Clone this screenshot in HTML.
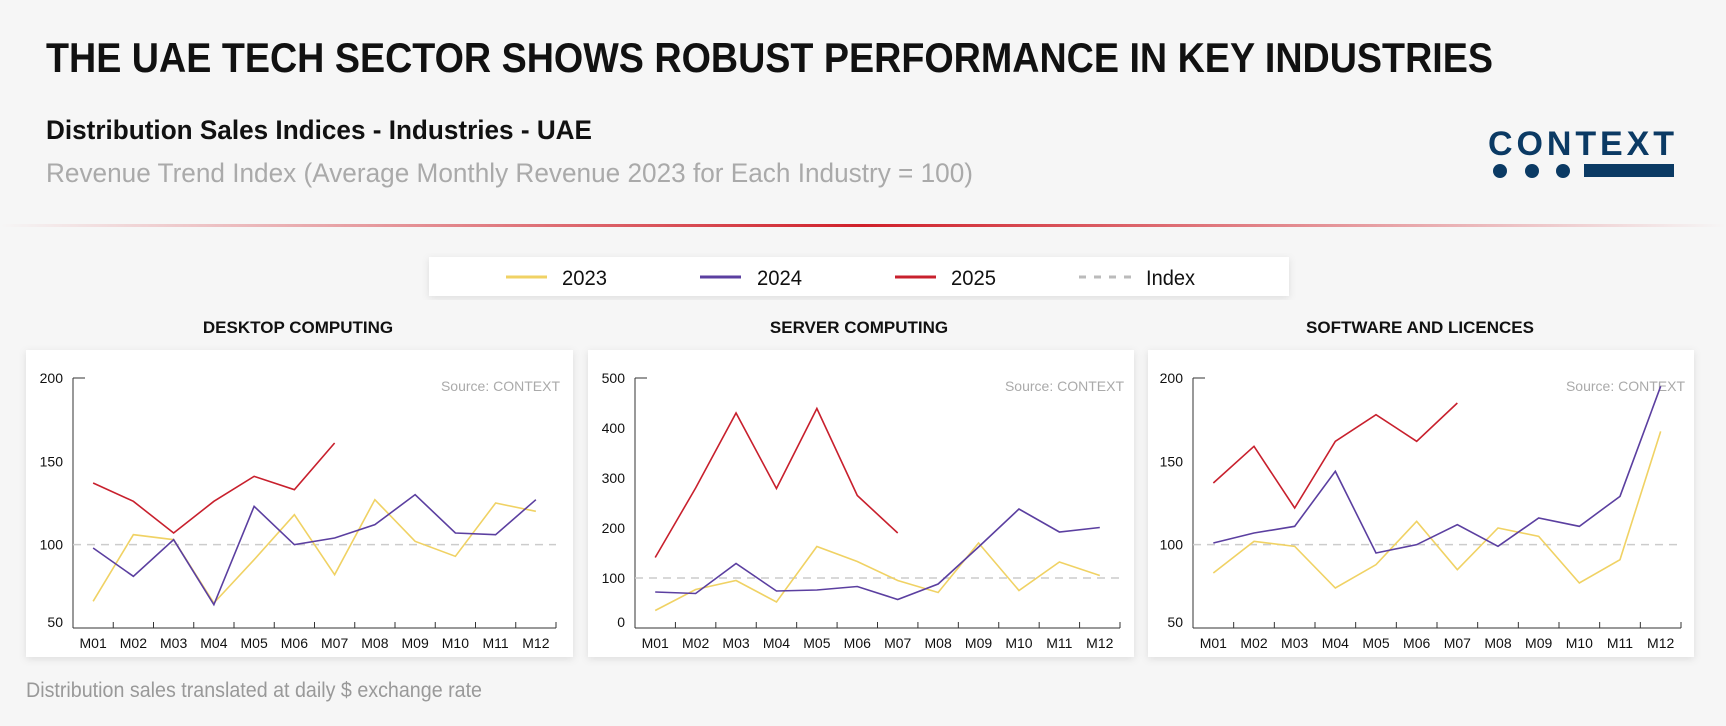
<!DOCTYPE html>
<html><head><meta charset="utf-8"><style>
html,body{margin:0;padding:0;background:#f6f6f6;}
svg{display:block;font-family:"Liberation Sans",sans-serif;}
</style></head><body>
<svg id="root" width="1726" height="726" viewBox="0 0 1726 726">
<defs>
<linearGradient id="redline" x1="0" x2="1" y1="0" y2="0">
<stop offset="0" stop-color="#d0202a" stop-opacity="0"/>
<stop offset="0.5" stop-color="#d0202a" stop-opacity="1"/>
<stop offset="1" stop-color="#d0202a" stop-opacity="0"/>
</linearGradient>
<filter id="sh" x="-5%" y="-10%" width="110%" height="120%"><feDropShadow dx="0" dy="2" stdDeviation="4" flood-color="#000" flood-opacity="0.10"/></filter>
</defs>
<rect width="1726" height="726" fill="#f6f6f6"/>
<text x="46" y="72" font-size="42" font-weight="bold" fill="#111" textLength="1447" lengthAdjust="spacingAndGlyphs">THE UAE TECH SECTOR SHOWS ROBUST PERFORMANCE IN KEY INDUSTRIES</text>
<text x="46" y="139" font-size="27" font-weight="bold" fill="#111" textLength="546" lengthAdjust="spacingAndGlyphs">Distribution Sales Indices - Industries - UAE</text>
<text x="46" y="182" font-size="27" fill="#aaa" textLength="927" lengthAdjust="spacingAndGlyphs">Revenue Trend Index (Average Monthly Revenue 2023 for Each Industry = 100)</text>
<g>
<text x="1488" y="155" font-size="34" font-weight="bold" fill="#0b3a64" textLength="186" lengthAdjust="spacing">CONTEXT</text>
<circle cx="1500" cy="171" r="7" fill="#0b3a64"/><circle cx="1532" cy="171" r="7" fill="#0b3a64"/><circle cx="1563" cy="171" r="7" fill="#0b3a64"/>
<rect x="1584" y="164" width="90" height="13" fill="#0b3a64"/>
</g>
<rect x="0" y="224" width="1726" height="3" fill="url(#redline)"/>
<g>
<rect x="429" y="257" width="860" height="39" fill="#fff" filter="url(#sh)"/>
<g><line x1="506" x2="547" y1="277" y2="277" stroke="#f0d264" stroke-width="3"/><text x="562" y="285" font-size="21" fill="#111" textLength="45" lengthAdjust="spacingAndGlyphs">2023</text></g>
<g><line x1="700" x2="741" y1="277" y2="277" stroke="#5b3fa0" stroke-width="3"/><text x="757" y="285" font-size="21" fill="#111" textLength="45" lengthAdjust="spacingAndGlyphs">2024</text></g>
<g><line x1="895" x2="936" y1="277" y2="277" stroke="#c8202d" stroke-width="3"/><text x="951" y="285" font-size="21" fill="#111" textLength="45" lengthAdjust="spacingAndGlyphs">2025</text></g>
<g><line x1="1079" x2="1131" y1="277" y2="277" stroke="#bbb" stroke-width="3" stroke-dasharray="7,8"/><text x="1146" y="285" font-size="21" fill="#111" textLength="49" lengthAdjust="spacingAndGlyphs">Index</text></g>
</g>
<text x="26" y="697" font-size="21" fill="#999" textLength="456" lengthAdjust="spacingAndGlyphs">Distribution sales translated at daily $ exchange rate</text>
<g id="charts"></g>
</svg>
<script>
const months = ["M01","M02","M03","M04","M05","M06","M07","M08","M09","M10","M11","M12"];
const desktop2023 = [66,106,103,65,91,118,82,127,102,93,125,120];
const desktop2024 = [98,81,103,64,123,100,104,112,130,107,106,127];
const desktop2025 = [137,126,107,126,141,133,161];
const server2023 = [35,77,95,52,163,133,95,71,170,75,132,105];
const server2024 = [72,69,129,74,76,83,57,88,162,238,192,201];
const server2025 = [141,280,430,279,439,265,190];
const software2023 = [83,102,99,74,88,114,85,110,105,77,91,168];
const software2024 = [101,107,111,144,95,100,112,99,116,111,129,195];
const software2025 = [137,159,122,162,178,162,185];
const desktopTicks = [50,100,150,200];
const serverTicks = [0,100,200,300,400,500];
const softwareTicks = [50,100,150,200];

const NS="http://www.w3.org/2000/svg";
const root=document.getElementById('charts');
function mk(tag,attrs,parent){const e=document.createElementNS(NS,tag);for(const k in attrs)e.setAttribute(k,attrs[k]);(parent||root).appendChild(e);return e;}

function chart(cfg){
  const g=mk('g',{});
  
  
  const panel=mk('rect',{x:cfg.px,y:350,width:cfg.pw,height:307,fill:'#fff',filter:'url(#sh)'},g);
  
  
  const t=mk('text',{x:cfg.tx,y:333,'font-size':17,'font-weight':'bold','text-anchor':'middle',fill:'#111'},g);
  t.textContent=cfg.title;
  
  
  const L=cfg.ax, R=cfg.ar, T=378, B=628;
  const ymin=cfg.ticks[0], ymax=cfg.ticks[cfg.ticks.length-1];
  const y=v=>B-(v-ymin)/(ymax-ymin)*(B-T);
  const bw=(R-L)/12;
  const x=i=>L+bw*(i+0.5);
  const src=mk('text',{x:R+4,y:391,'font-size':14,'text-anchor':'end',fill:'#aaa'},g);
  src.textContent='Source: CONTEXT';
  
  
  const ya=mk('line',{x1:L,x2:L,y1:T,y2:B,stroke:'#333','stroke-width':1},g);
  
  
  mk('line',{x1:L,x2:L+12,y1:T,y2:T,stroke:'#333','stroke-width':1},g);
  const xa=mk('line',{x1:L,x2:R,y1:B,y2:B,stroke:'#333','stroke-width':1},g);
  
  
  cfg.ticks.forEach((v,k)=>{
    const lab=mk('text',{x:L-10,y:y(v)+5-(k===0?6:0),'font-size':14,'text-anchor':'end',fill:'#111'},g);
    lab.textContent=v;
    
    
  });
  months.forEach((m,i)=>{
    if(i>0) mk('line',{x1:L+bw*i,x2:L+bw*i,y1:B,y2:B-6,stroke:'#333','stroke-width':1},g);
    const lab=mk('text',{x:x(i),y:B+20,'font-size':14,'text-anchor':'middle',fill:'#111'},g);
    lab.textContent=m;
    
    
  });
  mk('line',{x1:R,x2:R,y1:B,y2:B-6,stroke:'#333','stroke-width':1},g);
  const idx=mk('line',{x1:L,x2:R,y1:y(100),y2:y(100),stroke:'#ccc','stroke-width':1.5,'stroke-dasharray':'8,6'},g);
  
  
  const series=[[cfg.s23,'#f0d264','line-2023'],[cfg.s24,'#5b3fa0','line-2024'],[cfg.s25,'#c8202d','line-2025']];
  series.forEach(([d,c,n])=>{
    const p=mk('polyline',{points:d.map((v,i)=>x(i)+','+y(v)).join(' '),fill:'none',stroke:c,'stroke-width':1.6,'stroke-linejoin':'miter'},g);
    
    
  });
}
chart({name:'desktop-computing-chart',title:'DESKTOP COMPUTING',px:26,pw:547,tx:298,ax:73,ar:556,ticks:desktopTicks,s23:desktop2023,s24:desktop2024,s25:desktop2025});
chart({name:'server-computing-chart',title:'SERVER COMPUTING',px:588,pw:546,tx:859,ax:635,ar:1120,ticks:serverTicks,s23:server2023,s24:server2024,s25:server2025});
chart({name:'software-licences-chart',title:'SOFTWARE AND LICENCES',px:1148,pw:546,tx:1420,ax:1193,ar:1681,ticks:softwareTicks,s23:software2023,s24:software2024,s25:software2025});
</script>
</body></html>
